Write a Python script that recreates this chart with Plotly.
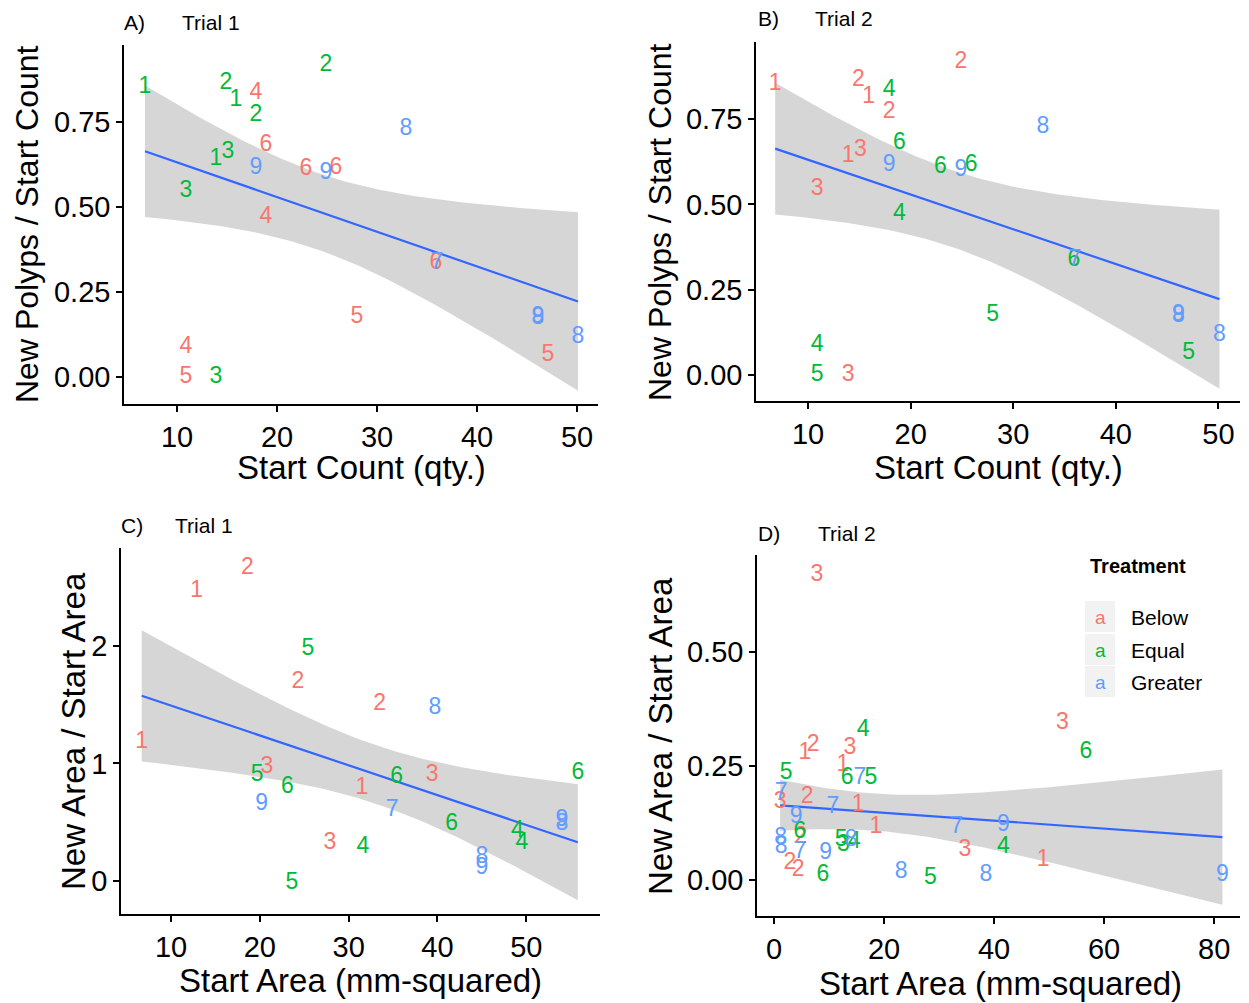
import numpy as np
import plotly.graph_objects as go

W, H = 1249, 1003

COLORS = {"Below": "#F8766D", "Equal": "#00BA38", "Greater": "#619CFF"}

# ---------------- Panels A & B : Start Count vs New Polyps / Start Count ----------------
count_labels = ["1", "2", "1", "4", "2", "2", "6", "1", "3", "9", "6", "9", "6",
                "3", "4", "5", "4", "5", "3", "8", "6", "7", "9", "8", "5", "8"]
count_x = [6.8, 14.9, 15.9, 17.9, 17.9, 24.9, 18.9, 13.9, 15.1, 17.9, 22.9, 24.9, 25.9,
           10.9, 18.9, 28.0, 10.9, 10.9, 13.9, 32.9, 35.9, 36.0, 46.1, 46.1, 47.1, 50.1]
count_y = [0.853, 0.865, 0.815, 0.835, 0.770, 0.918, 0.680, 0.640, 0.660, 0.615, 0.610, 0.600, 0.615,
           0.545, 0.470, 0.175, 0.088, 0.000, 0.000, 0.727, 0.335, 0.335, 0.176, 0.172, 0.065, 0.118]
count_group_trial1 = ["Equal", "Equal", "Equal", "Below", "Equal", "Equal", "Below", "Equal", "Equal",
                      "Greater", "Below", "Greater", "Below", "Equal", "Below", "Below", "Below",
                      "Below", "Equal", "Greater", "Below", "Greater", "Greater", "Greater", "Below", "Greater"]
count_group_trial2 = ["Below", "Below", "Below", "Equal", "Below", "Below", "Equal", "Below", "Below",
                      "Greater", "Equal", "Greater", "Equal", "Below", "Equal", "Equal", "Equal",
                      "Equal", "Below", "Greater", "Equal", "Greater", "Greater", "Greater", "Equal", "Greater"]

# ---------------- Panel C : Trial 1 area ----------------
area1_labels = ["2", "1", "2", "1", "3", "3", "2", "3", "1",
                "5", "5", "6", "5", "6", "6", "4", "4", "4", "6",
                "9", "8", "7", "8", "9", "9", "8"]
area1_x = [18.6, 12.9, 24.3, 6.7, 20.8, 27.9, 33.5, 39.4, 31.5,
           25.4, 19.7, 23.1, 23.6, 35.4, 41.6, 31.6, 49.0, 49.5, 55.8,
           20.2, 39.7, 34.9, 45.0, 45.0, 54.0, 54.0]
area1_y = [2.66, 2.46, 1.69, 1.18, 0.97, 0.32, 1.50, 0.90, 0.79,
           1.97, 0.90, 0.80, -0.015, 0.88, 0.48, 0.29, 0.42, 0.32, 0.92,
           0.65, 1.47, 0.60, 0.20, 0.11, 0.52, 0.48]
area1_group = ["Below"] * 9 + ["Equal"] * 10 + ["Greater"] * 7

# ---------------- Panel D : Trial 2 area ----------------
area2_labels = ["3", "2", "1", "3", "1", "3", "2", "1", "1", "2", "2", "2", "3", "3", "1",
                "4", "5", "6", "5", "6", "5", "3", "4", "6", "5", "6", "4",
                "7", "7", "7", "9", "8", "8", "8", "7", "9", "8", "7", "9", "8", "9"]
area2_x = [7.8, 7.1, 5.6, 13.8, 12.5, 1.1, 6.0, 15.3, 18.5, 4.9, 2.9, 4.4, 52.4, 34.7, 48.9,
           16.2, 2.2, 13.3, 17.6, 4.7, 12.2, 12.6, 14.6, 8.9, 28.4, 56.7, 41.7,
           15.6, 1.3, 10.7, 4.0, 14.0, 1.2, 1.3, 4.7, 9.4, 23.1, 33.2, 41.7, 38.5, 81.5]
area2_y = [0.669, 0.296, 0.278, 0.289, 0.252, 0.171, 0.182, 0.164, 0.116, 0.094, 0.037, 0.022, 0.344, 0.066, 0.044,
           0.329, 0.234, 0.223, 0.223, 0.105, 0.088, 0.076, 0.082, 0.011, 0.004, 0.281, 0.072,
           0.223, 0.190, 0.160, 0.138, 0.088, 0.092, 0.072, 0.061, 0.059, 0.018, 0.116, 0.120, 0.011, 0.011]
area2_group = ["Below"] * 15 + ["Equal"] * 12 + ["Greater"] * 14

legend_items = ["Below", "Equal", "Greater"]


def px_x(p):
    return p / W


def px_y(p):
    return 1 - p / H


def tq975(df):
    z = 1.959964
    return z + (z**3 + z) / (4 * df) + (5 * z**5 + 16 * z**3 + 3 * z) / (96 * df**2)


def lm_band(x, y, n=80):
    x = np.asarray(x, float)
    y = np.asarray(y, float)
    b, a = np.polyfit(x, y, 1)
    resid = y - (a + b * x)
    dof = len(x) - 2
    s = np.sqrt(np.sum(resid**2) / dof)
    xm = x.mean()
    sxx = np.sum((x - xm) ** 2)
    xs = np.linspace(x.min(), x.max(), n)
    yh = a + b * xs
    se = s * np.sqrt(1 / len(x) + (xs - xm) ** 2 / sxx)
    t = tq975(dof)
    return xs, yh, yh - t * se, yh + t * se


fig = go.Figure()

panels = [
    ("1", count_x, count_y, count_labels, count_group_trial1),
    ("2", count_x, count_y, count_labels, count_group_trial2),
    ("3", area1_x, area1_y, area1_labels, area1_group),
    ("4", area2_x, area2_y, area2_labels, area2_group),
]

for idx, xs_, ys_, labs, grps in panels:
    xa = "x" if idx == "1" else "x" + idx
    ya = "y" if idx == "1" else "y" + idx
    fx, fy, lo, hi = lm_band(xs_, ys_)
    fig.add_trace(go.Scatter(x=np.concatenate([fx, fx[::-1]]), y=np.concatenate([hi, lo[::-1]]),
                             fill="toself", fillcolor="rgba(153,153,153,0.4)", line=dict(width=0),
                             mode="lines", hoverinfo="skip", showlegend=False, xaxis=xa, yaxis=ya))
    fig.add_trace(go.Scatter(x=fx, y=fy, mode="lines", line=dict(color="#3366FF", width=2.2),
                             showlegend=False, xaxis=xa, yaxis=ya))
    for g in legend_items:
        sel = [i for i, gg in enumerate(grps) if gg == g]
        fig.add_trace(go.Scatter(x=[xs_[i] for i in sel], y=[ys_[i] for i in sel],
                                 text=[labs[i] for i in sel], mode="text",
                                 textposition="middle center",
                                 textfont=dict(family="Liberation Sans, Arial", size=23, color=COLORS[g]),
                                 showlegend=False, xaxis=xa, yaxis=ya))

axis_common = dict(showline=True, linecolor="black", linewidth=1.5, ticks="outside", ticklen=6,
                   tickwidth=1.5, tickcolor="black", showgrid=False, zeroline=False,
                   tickfont=dict(family="Liberation Sans, Arial", size=29, color="black"))

# pixel domains for each panel  (left, right, top, bottom)
dom = {
    "1": (124, 598, 45, 404),
    "2": (756, 1240, 42, 401),
    "3": (121, 600, 548, 914),
    "4": (757, 1240, 555, 916),
}
ranges = {
    "1": ([4.7, 52.1], [-0.079, 0.976]),
    "2": ([4.93, 52.1], [-0.076, 0.976]),
    "3": ([4.37, 58.3], [-0.28, 2.83]),
    "4": ([-3.1, 84.7], [-0.079, 0.713]),
}
xt = {"1": [10, 20, 30, 40, 50], "2": [10, 20, 30, 40, 50], "3": [10, 20, 30, 40, 50], "4": [0, 20, 40, 60, 80]}
yt = {"1": [0, 0.25, 0.5, 0.75], "2": [0, 0.25, 0.5, 0.75], "3": [0, 1, 2], "4": [0, 0.25, 0.5]}
yfmt = {"1": ".2f", "2": ".2f", "3": "d", "4": ".2f"}

layout_axes = {}
for k, (l, r, t, b) in dom.items():
    xn = "xaxis" if k == "1" else "xaxis" + k
    yn = "yaxis" if k == "1" else "yaxis" + k
    anchor_x = "y" if k == "1" else "y" + k
    anchor_y = "x" if k == "1" else "x" + k
    layout_axes[xn] = dict(axis_common, domain=[px_x(l), px_x(r)], range=ranges[k][0],
                           tickvals=xt[k], anchor=anchor_x)
    layout_axes[yn] = dict(axis_common, domain=[px_y(b), px_y(t)], range=ranges[k][1],
                           tickvals=yt[k], tickformat=yfmt[k], anchor=anchor_y)

fig.update_layout(width=W, height=H, margin=dict(l=0, r=0, t=0, b=0),
                  plot_bgcolor="white", paper_bgcolor="white", showlegend=False, **layout_axes)

ann = []
FONT = "Liberation Sans, Arial"


def text(x, y, s, size, angle=0, xanchor="center", bold=False, color="black"):
    ann.append(dict(x=px_x(x), y=px_y(y), xref="paper", yref="paper", text=(f"<b>{s}</b>" if bold else s),
                    showarrow=False, textangle=angle, xanchor=xanchor, yanchor="middle",
                    font=dict(family=FONT, size=size, color=color)))


# panel titles
text(122, 22, "A)", 21, xanchor="left"); text(180, 22, "Trial 1", 21, xanchor="left")
text(756, 18, "B)", 21, xanchor="left"); text(813, 18, "Trial 2", 21, xanchor="left")
text(119, 525, "C)", 21, xanchor="left"); text(173, 525, "Trial 1", 21, xanchor="left")
text(756, 533, "D)", 21, xanchor="left"); text(816, 533, "Trial 2", 21, xanchor="left")

# axis titles
text(361, 468, "Start Count (qty.)", 33)
text(998, 467, "Start Count (qty.)", 33)
text(360, 980, "Start Area (mm-squared)", 33)
text(1000, 983, "Start Area (mm-squared)", 33)
text(27, 224, "New Polyps / Start Count", 32, angle=-90)
text(660, 222, "New Polyps / Start Count", 32, angle=-90)
text(73, 731, "New Area / Start Area", 33, angle=-90)
text(660, 736, "New Area / Start Area", 33, angle=-90)

# legend
text(1088, 566, "Treatment", 20, xanchor="left", bold=True)
shapes = []
key_top = [601, 634, 666]
for i, g in enumerate(legend_items):
    t0 = key_top[i]
    shapes.append(dict(type="rect", xref="paper", yref="paper", x0=px_x(1085), x1=px_x(1115),
                       y0=px_y(t0 + 31), y1=px_y(t0), fillcolor="#F2F2F2", line=dict(width=0)))
    text(1100, t0 + 16, "a", 19, color=COLORS[g])
    text(1129, t0 + 16, g, 21, xanchor="left")

fig.update_layout(annotations=ann, shapes=shapes)

fig.write_html("out.html", config={"displayModeBar": False},
               post_script="document.body.style.margin='0';")
